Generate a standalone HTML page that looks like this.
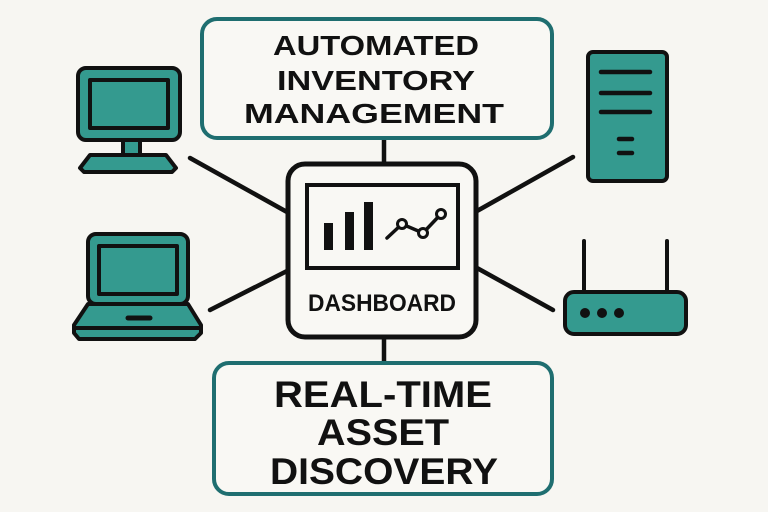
<!DOCTYPE html>
<html><head><meta charset="utf-8"><style>
html,body{margin:0;padding:0;background:#f7f6f2;}
svg{display:block;}
text{font-family:"Liberation Sans",sans-serif;font-weight:bold;fill:#111;}
</style></head><body>
<svg width="768" height="512" viewBox="0 0 768 512" xmlns="http://www.w3.org/2000/svg">
<rect width="768" height="512" fill="#f7f6f2"/>
<g stroke="#111" stroke-width="4.5" stroke-linecap="round" fill="none">
<line x1="384" y1="139" x2="384" y2="164"/>
<line x1="384" y1="337" x2="384" y2="363"/>
<line x1="190" y1="158" x2="287" y2="212"/>
<line x1="573" y1="157" x2="477" y2="211"/>
<line x1="210" y1="310" x2="287" y2="271"/>
<line x1="553" y1="310" x2="477" y2="268"/>
</g>
<!-- top box -->
<rect x="202" y="19" width="350" height="119" rx="15" fill="#f9f8f4" stroke="#1f6e70" stroke-width="4"/>
<text x="376" y="55" font-size="28" text-anchor="middle" textLength="206" lengthAdjust="spacingAndGlyphs">AUTOMATED</text>
<text x="376" y="90" font-size="28" text-anchor="middle" textLength="198" lengthAdjust="spacingAndGlyphs">INVENTORY</text>
<text x="374" y="123" font-size="28" text-anchor="middle" textLength="260" lengthAdjust="spacingAndGlyphs">MANAGEMENT</text>
<!-- bottom box -->
<rect x="214" y="363" width="338" height="131" rx="15" fill="#f9f8f4" stroke="#1f6e70" stroke-width="4"/>
<text x="383" y="407" font-size="37" text-anchor="middle" textLength="218" lengthAdjust="spacingAndGlyphs">REAL-TIME</text>
<text x="383" y="445" font-size="37" text-anchor="middle" textLength="132" lengthAdjust="spacingAndGlyphs">ASSET</text>
<text x="384" y="484" font-size="37" text-anchor="middle" textLength="228" lengthAdjust="spacingAndGlyphs">DISCOVERY</text>
<!-- dashboard -->
<rect x="288" y="164" width="188" height="173" rx="17" fill="#f9f8f4" stroke="#111" stroke-width="5"/>
<rect x="307" y="185" width="151" height="83" fill="none" stroke="#111" stroke-width="4"/>
<rect x="324" y="223" width="9" height="27" fill="#111"/>
<rect x="345" y="212" width="9" height="38" fill="#111"/>
<rect x="364" y="202" width="9" height="48" fill="#111"/>
<polyline points="387,238 402,224 423,233 441,214" fill="none" stroke="#111" stroke-width="3.5" stroke-linecap="round"/>
<g fill="#f9f8f4" stroke="#111" stroke-width="3"><circle cx="402" cy="224" r="4.5"/><circle cx="423" cy="233" r="4.5"/><circle cx="441" cy="214" r="4.5"/></g>
<text x="382" y="311" font-size="24" text-anchor="middle" textLength="148" lengthAdjust="spacingAndGlyphs">DASHBOARD</text>
<!-- desktop -->
<g stroke="#111" stroke-width="4" stroke-linejoin="round" fill="#349a8f">
<rect x="78" y="68" width="102" height="72" rx="8"/>
<rect x="90" y="80" width="78" height="48" fill="#349a8f"/>
<rect x="123" y="140" width="17" height="15"/>
<path d="M90,155 L166,155 L176,168 L172,172 L84,172 L80,168 Z"/>
</g>
<!-- laptop -->
<g stroke="#111" stroke-width="4" stroke-linejoin="round" fill="#349a8f">
<rect x="88" y="234" width="100" height="70" rx="8"/>
<rect x="99" y="246" width="78" height="48"/>
<path d="M88,304 L188,304 L201,325 L201,333 L195,339 L79,339 L74,333 L74,325 Z"/>
<line x1="76" y1="328" x2="199" y2="328"/>
<line x1="128" y1="318" x2="150" y2="318" stroke-width="5" stroke-linecap="round"/>
</g>
<!-- server -->
<g stroke="#111" stroke-width="4" fill="#349a8f">
<rect x="588" y="52" width="79" height="129" rx="5"/>
<g stroke-width="4.5" stroke-linecap="round">
<line x1="601" y1="72" x2="650" y2="72"/><line x1="601" y1="93" x2="650" y2="93"/><line x1="601" y1="112" x2="650" y2="112"/>
<line x1="619" y1="139" x2="632" y2="139"/><line x1="619" y1="153" x2="632" y2="153"/>
</g>
</g>
<!-- router -->
<g stroke="#111" stroke-width="4" fill="#349a8f" stroke-linecap="round">
<line x1="584" y1="241" x2="584" y2="292"/>
<line x1="667" y1="241" x2="667" y2="292"/>
<rect x="565" y="292" width="121" height="42" rx="9"/>
<g fill="#111" stroke="none"><circle cx="585" cy="313" r="5"/><circle cx="602" cy="313" r="5"/><circle cx="619" cy="313" r="5"/></g>
</g>
</svg>
</body></html>
